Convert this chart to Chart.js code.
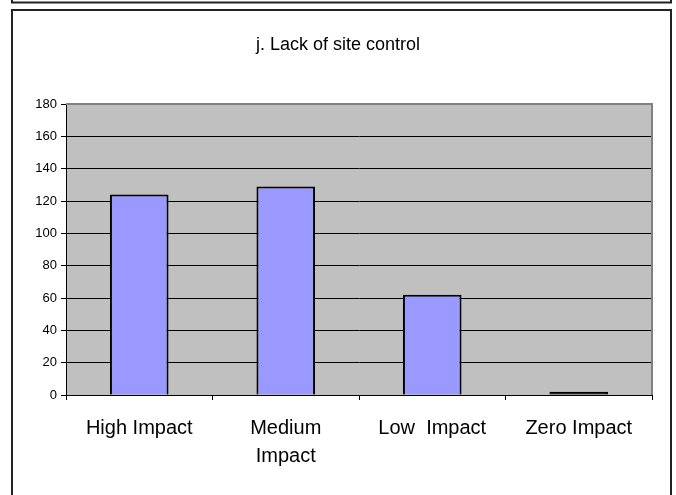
<!DOCTYPE html>
<html>
<head>
<meta charset="utf-8">
<script src="https://cdn.jsdelivr.net/npm/chart.js@4.4.0/dist/chart.umd.min.js"></script>
<style>
  html, body { margin: 0; padding: 0; background: #fff; }
  #wrap { width: 676px; height: 495px; position: relative; }
</style>
</head>
<body>
<div id="wrap"><canvas id="c" width="676" height="495"></canvas></div>
<script>
const chartTitle = 'j. Lack of site control';
const categories = ['High Impact', ['Medium', 'Impact'], 'Low  Impact', 'Zero Impact'];
const values = [124, 129, 62, 2];
const yTicks = [0, 20, 40, 60, 80, 100, 120, 140, 160, 180];

const FONT = '"Liberation Sans", Arial, sans-serif';

const framePlugin = {
  id: 'frame',
  beforeDraw(chart) {
    const ctx = chart.ctx;
    ctx.save();
    ctx.fillStyle = '#fff';
    ctx.fillRect(0, 0, chart.width, chart.height);
    ctx.strokeStyle = '#222';
    ctx.lineWidth = 2;
    ctx.beginPath();
    ctx.moveTo(12, -2); ctx.lineTo(12, 2.5); ctx.lineTo(671, 2.5); ctx.lineTo(671, -2);
    ctx.stroke();
    ctx.strokeRect(12, 10, 659, 500);
    const a = chart.chartArea;
    ctx.fillStyle = '#C0C0C0';
    ctx.fillRect(a.left, a.top, a.right - a.left, a.bottom - a.top);
    ctx.restore();
  },
  afterDatasetsDraw(chart) {
    const ctx = chart.ctx;
    const a = chart.chartArea;
    ctx.save();
    ctx.strokeStyle = '#808080';
    ctx.lineWidth = 2;
    ctx.beginPath();
    ctx.moveTo(a.left, a.top);
    ctx.lineTo(a.right, a.top);
    ctx.lineTo(a.right, a.bottom);
    ctx.stroke();
    ctx.restore();
  }
};

new Chart(document.getElementById('c'), {
  type: 'bar',
  data: {
    labels: categories,
    datasets: [{
      data: values,
      backgroundColor: (c) => (c.raw !== undefined && c.raw < 3 ? '#000000' : '#9999FF'),
      borderColor: '#000000',
      borderWidth: 2,
      barPercentage: 0.4,
      categoryPercentage: 1.0
    }]
  },
  options: {
    responsive: false,
    animation: false,
    devicePixelRatio: 1,
    layout: { padding: { left: 18, right: 18, top: 9, bottom: 0 } },
    plugins: {
      legend: { display: false },
      tooltip: { enabled: false },
      title: {
        display: true,
        text: chartTitle,
        color: '#000',
        font: { family: FONT, size: 18, weight: 'normal', lineHeight: 1.2 },
        padding: { top: 25, bottom: 48.4 }
      }
    },
    scales: {
      x: {
        grid: { display: true, drawOnChartArea: false, offset: true, color: '#000', tickLength: 5, tickColor: '#000' },
        border: { display: true, color: '#000', width: 1 },
        ticks: { color: '#000', font: { family: FONT, size: 20, lineHeight: 1.4 }, padding: 14, maxRotation: 0, autoSkip: false },
        afterFit(scale) { scale.height = 100; }
      },
      y: {
        min: 0, max: 180,
        afterBuildTicks(scale) { scale.ticks = yTicks.map(v => ({ value: v })); },
        grid: { color: '#000', lineWidth: 1, tickLength: 5, tickColor: '#000' },
        border: { display: true, color: '#000', width: 1 },
        ticks: { color: '#000', font: { family: FONT, size: 13 }, padding: 4 },
        afterFit(scale) { scale.width = 48; }
      },
      yRight: {
        position: 'right',
        min: 0, max: 180,
        grid: { display: false },
        border: { display: false },
        ticks: { display: false },
        afterFit(scale) { scale.width = 6; }
      }
    }
  },
  plugins: [framePlugin]
});
</script>
</body>
</html>
